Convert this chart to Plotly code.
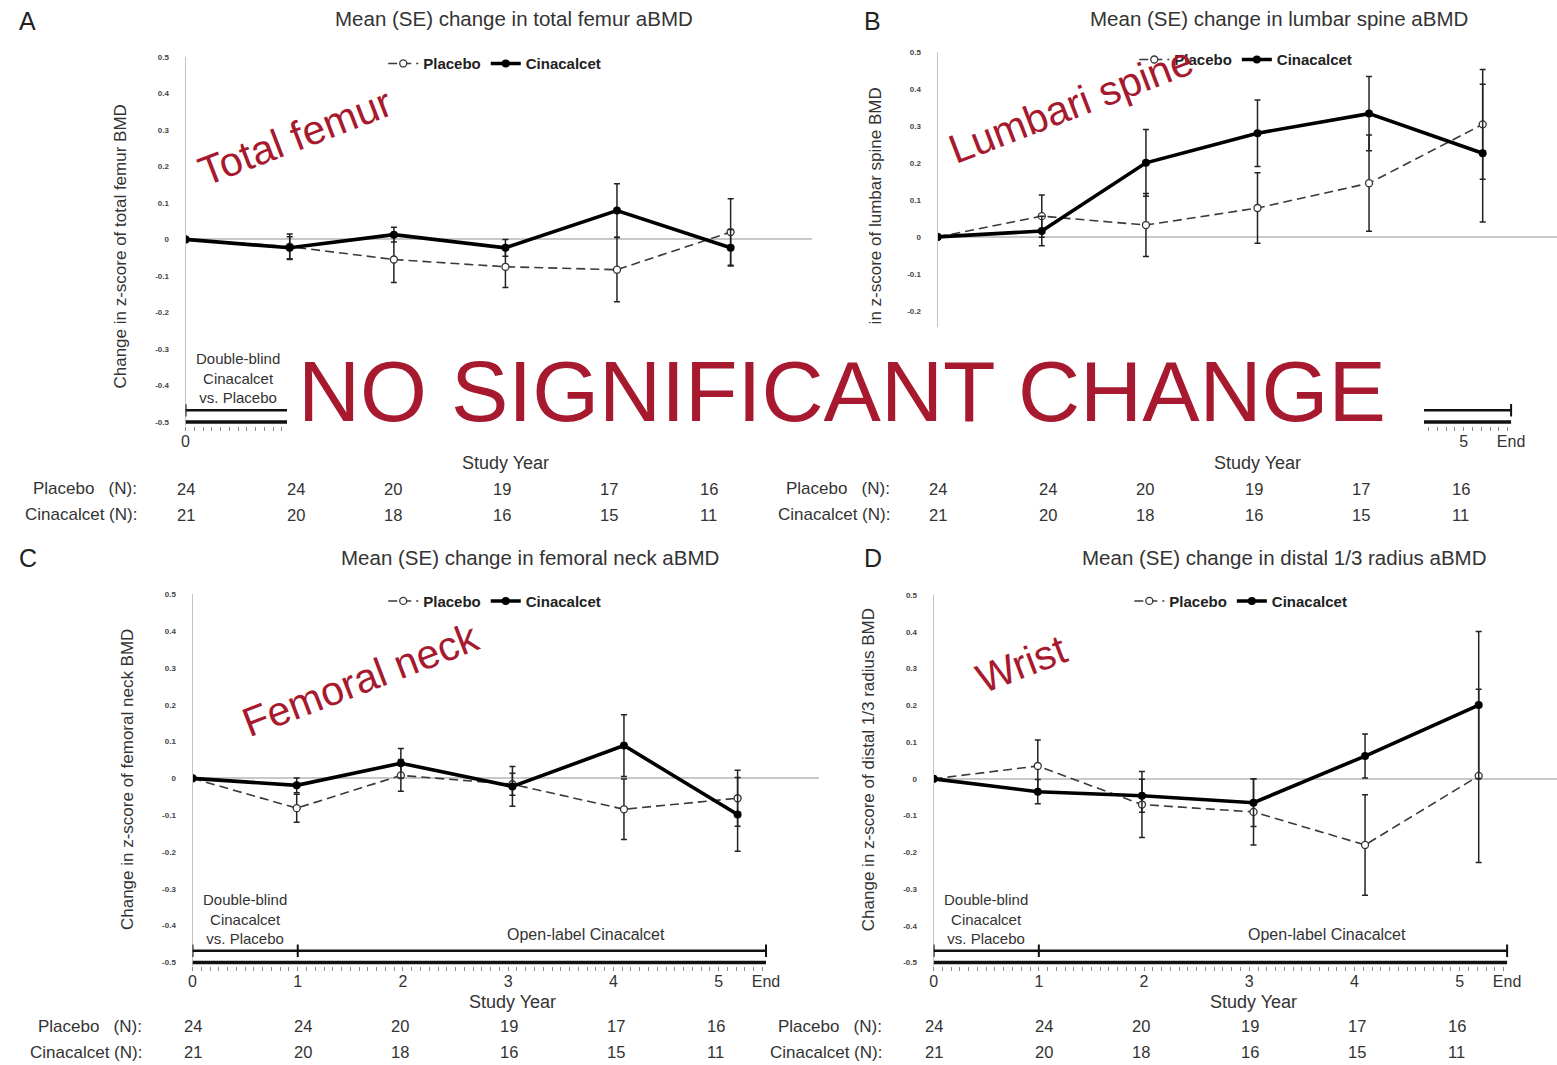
import plotly.graph_objects as go

W, H = 1557, 1065
FONT = "Liberation Sans, Arial, sans-serif"
RED = "#a6192e"
TXT = "#333333"

# ---------------- data ----------------
visit_year = [0, 0.99, 1.98, 3.04, 4.1, 5.18]
x_tick_vals = [0, 1, 2, 3, 4, 5, 5.45]
x_tick_text = ["0", "1", "2", "3", "4", "5", "End"]
y_tick_vals = [0.5, 0.4, 0.3, 0.2, 0.1, 0, -0.1, -0.2, -0.3, -0.4, -0.5]
y_tick_text = ["0.5", "0.4", "0.3", "0.2", "0.1", "0", "-0.1", "-0.2", "-0.3", "-0.4", "-0.5"]

n_placebo = [24, 24, 20, 19, 17, 16]
n_cinacalcet = [21, 20, 18, 16, 15, 11]

femur_placebo = [0, -0.02, -0.055, -0.075, -0.083, 0.02]
femur_placebo_se = [0, 0.035, 0.063, 0.057, 0.088, 0.091]
femur_cina = [0, -0.023, 0.013, -0.023, 0.079, -0.023]
femur_cina_se = [0, 0.03, 0.02, 0.023, 0.073, 0.05]

spine_placebo = [0, 0.056, 0.032, 0.078, 0.145, 0.304]
spine_placebo_se = [0, 0.057, 0.085, 0.095, 0.13, 0.148]
spine_cina = [0, 0.016, 0.2, 0.28, 0.333, 0.226]
spine_cina_se = [0, 0.04, 0.09, 0.09, 0.10, 0.186]

neck_placebo = [0, -0.081, 0.008, -0.016, -0.084, -0.054]
neck_placebo_se = [0, 0.038, 0.043, 0.03, 0.082, 0.076]
neck_cina = [0, -0.019, 0.041, -0.022, 0.089, -0.098]
neck_cina_se = [0, 0.02, 0.04, 0.054, 0.084, 0.1]

radius_placebo = [0, 0.035, -0.07, -0.09, -0.18, 0.008]
radius_placebo_se = [0, 0.071, 0.09, 0.09, 0.137, 0.236]
radius_cina = [0, -0.035, -0.046, -0.065, 0.062, 0.201]
radius_cina_se = [0, 0.033, 0.045, 0.065, 0.06, 0.2]

# ---------------- layout specs ----------------
PX_PER_YEAR = 105.5
END_YEAR = 5.45
n_cols = [0, 1.05, 1.97, 3.01, 4.02, 4.97]

panels = [
    dict(letter="A", title="Mean (SE) change in total femur aBMD",
         ytitle="Change in z-score of total femur BMD",
         pl=femur_placebo, pl_se=femur_placebo_se, ci=femur_cina, ci_se=femur_cina_se,
         left=182, right=810, top=53, bot=420, title_xy=(511, 15), letter_xy=(24, 17),
         legend_xy=(492, 60), ylab_xy=(117, 244), nlab_right=135, rows=(461, 487, 513),
         tag=("Total femur", 292, 134)),
    dict(letter="B", title="Mean (SE) change in lumbar spine aBMD",
         ytitle="Change in z-score of lumbar spine BMD",
         pl=spine_placebo, pl_se=spine_placebo_se, ci=spine_cina, ci_se=spine_cina_se,
         left=936, right=1557, top=48, bot=420, title_xy=(1278, 15), letter_xy=(871, 17),
         legend_xy=(1245, 56), ylab_xy=(874, 235), nlab_right=890, rows=(461, 487, 513),
         tag=("Lumbari spine", 1070, 101)),
    dict(letter="C", title="Mean (SE) change in femoral neck aBMD",
         ytitle="Change in z-score of femoral neck BMD",
         pl=neck_placebo, pl_se=neck_placebo_se, ci=neck_cina, ci_se=neck_cina_se,
         left=189, right=817, top=593, bot=963, title_xy=(527, 556), letter_xy=(24, 557),
         legend_xy=(492, 600), ylab_xy=(124, 779), nlab_right=140, rows=(1003, 1027, 1053),
         tag=("Femoral neck", 357, 679)),
    dict(letter="D", title="Mean (SE) change in distal 1/3 radius aBMD",
         ytitle="Change in z-score of distal 1/3 radius BMD",
         pl=radius_placebo, pl_se=radius_placebo_se, ci=radius_cina, ci_se=radius_cina_se,
         left=932, right=1557, top=594, bot=963, title_xy=(1284, 556), letter_xy=(871, 557),
         legend_xy=(1240, 600), ylab_xy=(867, 769), nlab_right=882, rows=(1003, 1027, 1053),
         tag=("Wrist", 1020, 663)),
]


def fx(px):
    return px / W


def fy(py):
    return 1 - py / H


fig = go.Figure()
shapes, annotations, layout = [], [], {}
Y_LO = -0.51
minor_vals = [m / 12 for m in range(0, 66)]


def txt(xref, x, y, text, size, xanchor="center", color=TXT, **kw):
    d = dict(xref=xref, yref="paper", x=x, y=y, text=text, showarrow=False,
             xanchor=xanchor, yanchor="middle", font=dict(size=size, color=color, family=FONT))
    d.update(kw)
    return d


for i, p in enumerate(panels):
    s = "" if i == 0 else str(i + 1)
    xa, ya, lg = "x" + s, "y" + s, "legend" + s
    ppu = (p["bot"] - p["top"]) / 1.0
    bot_px = p["bot"] + (-0.5 - Y_LO) * ppu
    xr = (p["right"] - p["left"]) / PX_PER_YEAR

    fig.add_trace(go.Scatter(
        x=visit_year, y=p["pl"], name="<b>Placebo</b>", mode="lines+markers",
        xaxis=xa, yaxis=ya, legend=lg,
        line=dict(color="#3a3a3a", width=1.6, dash="9px,5px"),
        marker=dict(symbol="circle", size=7, color="white", line=dict(color="#333", width=1.3)),
        error_y=dict(type="data", array=p["pl_se"], thickness=1.5, width=3, color="#222"),
    ))
    fig.add_trace(go.Scatter(
        x=visit_year, y=p["ci"], name="<b>Cinacalcet</b>", mode="lines+markers",
        xaxis=xa, yaxis=ya, legend=lg,
        line=dict(color="#000", width=3.6),
        marker=dict(symbol="circle", size=8, color="#000"),
        error_y=dict(type="data", array=p["ci_se"], thickness=1.5, width=3, color="#222"),
    ))

    layout["xaxis" + s] = dict(
        domain=[fx(p["left"]), fx(p["right"])], range=[0, xr], anchor=ya,
        tickmode="array", tickvals=x_tick_vals, ticktext=x_tick_text,
        showline=False, showgrid=False, zeroline=False, ticks="",
        tickfont=dict(size=16, color=TXT, family=FONT), ticklabelstandoff=4,
        minor=dict(tickmode="array", tickvals=minor_vals, ticks="outside",
                   ticklen=4, tickwidth=1, tickcolor="#8a8a8a"),
    )
    layout["yaxis" + s] = dict(
        domain=[fy(bot_px), fy(p["top"])], range=[Y_LO, 0.5], anchor=xa,
        tickmode="array", tickvals=y_tick_vals, ticktext=y_tick_text,
        showline=True, linecolor="#c4c4c4", linewidth=1, showgrid=False,
        zeroline=True, zerolinecolor="#c8c8c8", zerolinewidth=1.6, ticks="",
        tickfont=dict(size=8, color="#444", family=FONT, weight="bold"), ticklabelstandoff=14,
    )
    layout[lg] = dict(
        x=fx(p["legend_xy"][0]), y=fy(p["legend_xy"][1]), xanchor="center", yanchor="middle",
        orientation="h", bgcolor="rgba(0,0,0,0)", itemwidth=30,
        font=dict(size=15, color="#222", family=FONT),
    )

    # bracket and bottom double line
    by = -0.468
    shapes.append(dict(type="line", xref=xa, yref=ya, x0=0, x1=END_YEAR, y0=by, y1=by,
                       line=dict(color="#111", width=2.5)))
    for cx in (0, 1, END_YEAR):
        shapes.append(dict(type="line", xref=xa, yref=ya, x0=cx, x1=cx, y0=by - 0.017, y1=by + 0.017,
                           line=dict(color="#111", width=2)))
    shapes.append(dict(type="line", xref=xa, yref=ya, x0=0, x1=END_YEAR, y0=-0.5, y1=-0.5,
                       line=dict(color="#111", width=3.5)))

    annotations.append(txt(xa, 0.5, fy(p["bot"] - 44),
                           "<span style='line-height:1'>Double-blind<br>Cinacalcet<br>vs. Placebo</span>", 15))
    annotations.append(txt(xa, 3.74, fy(p["bot"] - 28), "Open-label Cinacalcet", 16))
    annotations.append(txt("paper", fx(p["title_xy"][0]), fy(p["title_xy"][1]), p["title"], 20.5))
    annotations.append(txt("paper", fx(p["letter_xy"][0]), fy(p["letter_xy"][1]), p["letter"], 25,
                           color="#222"))
    annotations.append(txt("paper", fx(p["ylab_xy"][0]), fy(p["ylab_xy"][1]), p["ytitle"], 17,
                           textangle=-90))
    r_sy, r_pl, r_ci = p["rows"]
    annotations.append(txt(xa, 3.04, fy(r_sy), "Study Year", 18))
    annotations.append(txt("paper", fx(p["nlab_right"]), fy(r_pl), "Placebo\u00a0\u00a0\u00a0(N):", 17,
                           xanchor="right"))
    annotations.append(txt("paper", fx(p["nlab_right"]), fy(r_ci), "Cinacalcet\u00a0(N):", 17,
                           xanchor="right"))
    for cx, npl, nci in zip(n_cols, n_placebo, n_cinacalcet):
        annotations.append(txt(xa, cx, fy(r_pl), str(npl), 16.5))
        annotations.append(txt(xa, cx, fy(r_ci), str(nci), 16.5))

# white box + headline
annotations.append(dict(xref="paper", yref="paper", x=fx(853.5), y=fy(387.5), xanchor="center",
                        yanchor="middle", text=" ", showarrow=False, width=1137, height=125,
                        bgcolor="white", borderpad=0, borderwidth=0, font=dict(size=10)))
annotations.append(txt("paper", fx(840), fy(389), "NO SIGNIFICANT CHANGE", 86, color=RED))
for p in panels:
    t, cx, cy = p["tag"]
    annotations.append(txt("paper", fx(cx), fy(cy), t, 41, color=RED, textangle=-21))

fig.update_layout(
    width=W, height=H, margin=dict(l=0, r=0, t=0, b=0, pad=0),
    paper_bgcolor="white", plot_bgcolor="white", showlegend=True,
    font=dict(family=FONT, color=TXT),
    shapes=shapes, annotations=annotations, **layout,
)
fig.write_html(
    "out.html",
    config={"displayModeBar": False},
    post_script="document.body.style.margin='0px';document.body.style.padding='0px';"
                "document.documentElement.style.overflow='hidden';",
)
